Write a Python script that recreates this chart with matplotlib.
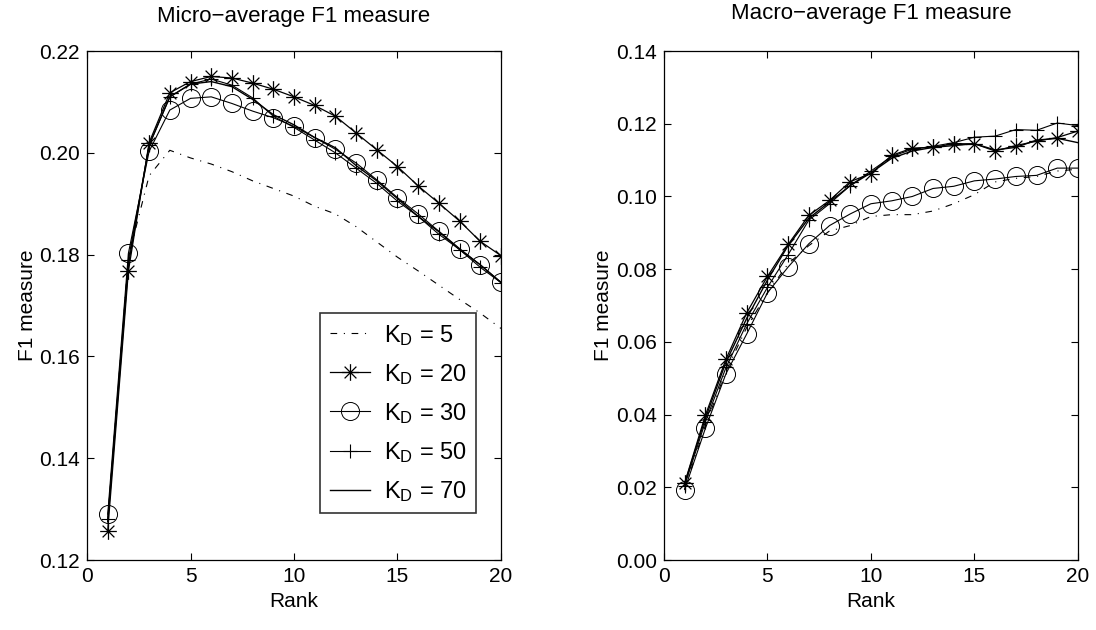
import numpy as np
import matplotlib
matplotlib.use('Agg')
import matplotlib.pyplot as plt
from matplotlib.path import Path

plt.rcParams['font.family'] = ['Liberation Sans', 'DejaVu Sans']
plt.rcParams['mathtext.fontset'] = 'custom'
plt.rcParams['mathtext.rm'] = 'Liberation Sans'
plt.rcParams['mathtext.it'] = 'Liberation Sans'

rank = np.arange(1, 21)

# Micro-average F1
micro_k5 = [0.1275, 0.1795, 0.1955, 0.2005, 0.1990, 0.1978, 0.1963, 0.1945, 0.1930, 0.1915,
            0.1895, 0.1880, 0.1855, 0.1825, 0.1795, 0.1768, 0.1740, 0.1712, 0.1685, 0.1655]
micro_k20 = [0.1258, 0.1768, 0.2020, 0.2118, 0.2140, 0.2150, 0.2147, 0.2137, 0.2125, 0.2110,
             0.2093, 0.2072, 0.2039, 0.2006, 0.1973, 0.1935, 0.1901, 0.1866, 0.1826, 0.1798]
micro_k30 = [0.1290, 0.1803, 0.2003, 0.2084, 0.2107, 0.2110, 0.2097, 0.2082, 0.2069, 0.2052,
             0.2030, 0.2007, 0.1980, 0.1947, 0.1912, 0.1880, 0.1846, 0.1812, 0.1780, 0.1746]
micro_k50 = [0.1280, 0.1790, 0.2015, 0.2110, 0.2135, 0.2145, 0.2133, 0.2108, 0.2072, 0.2050,
             0.2025, 0.2000, 0.1970, 0.1940, 0.1905, 0.1875, 0.1840, 0.1810, 0.1775, 0.1745]
micro_k70 = [0.1275, 0.1780, 0.2015, 0.2110, 0.2135, 0.2140, 0.2130, 0.2105, 0.2075, 0.2055,
             0.2030, 0.2010, 0.1975, 0.1945, 0.1910, 0.1875, 0.1845, 0.1810, 0.1780, 0.1745]

# Macro-average F1
macro_k5 = [0.0195, 0.0370, 0.0520, 0.0640, 0.0735, 0.0815, 0.0865, 0.0905, 0.0920, 0.0945,
            0.0950, 0.0950, 0.0960, 0.0980, 0.1005, 0.1040, 0.1050, 0.1055, 0.1070, 0.1075]
macro_k20 = [0.0212, 0.0398, 0.0553, 0.0680, 0.0780, 0.0868, 0.0948, 0.0989, 0.1041, 0.1063,
             0.1113, 0.1133, 0.1135, 0.1145, 0.1145, 0.1125, 0.1140, 0.1152, 0.1162, 0.1180]
macro_k30 = [0.0194, 0.0362, 0.0513, 0.0622, 0.0735, 0.0806, 0.0870, 0.0920, 0.0952, 0.0980,
             0.0988, 0.1000, 0.1022, 0.1028, 0.1043, 0.1048, 0.1055, 0.1058, 0.1078, 0.1078]
macro_k50 = [0.0205, 0.0380, 0.0530, 0.0650, 0.0750, 0.0840, 0.0935, 0.0980, 0.1030, 0.1070,
             0.1110, 0.1130, 0.1138, 0.1148, 0.1163, 0.1166, 0.1184, 0.1182, 0.1202, 0.1195]
macro_k70 = [0.0210, 0.0390, 0.0545, 0.0665, 0.0770, 0.0865, 0.0940, 0.0985, 0.1030, 0.1065,
             0.1105, 0.1125, 0.1135, 0.1140, 0.1145, 0.1128, 0.1135, 0.1155, 0.1160, 0.1148]

labels = [r'K$_\mathrm{D}$ = 5', r'K$_\mathrm{D}$ = 20', r'K$_\mathrm{D}$ = 30',
          r'K$_\mathrm{D}$ = 50', r'K$_\mathrm{D}$ = 70']

# matlab-like asterisk: + and x together
d = 0.7071
asterisk = Path([(-1, 0), (1, 0), (0, -1), (0, 1), (-d, -d), (d, d), (-d, d), (d, -d)],
                [Path.MOVETO, Path.LINETO] * 4)

styles = [
    dict(ls=(0, (6, 6, 1, 6)), lw=0.8, marker=None),
    dict(ls='-', lw=0.9, marker=asterisk, ms=12, mew=0.9),
    dict(ls='-', lw=0.8, marker='o', ms=13, mfc='none', mew=0.7),
    dict(ls='-', lw=0.8, marker='+', ms=10, mew=0.8),
    dict(ls='-', lw=1.0, marker=None),
]

fig = plt.figure(figsize=(10.96, 6.30), dpi=100)
ax1 = fig.add_axes([0.0794, 0.111, 0.3777, 0.808])
ax2 = fig.add_axes([0.6058, 0.111, 0.3777, 0.808])

micro = [micro_k5, micro_k20, micro_k30, micro_k50, micro_k70]
macro = [macro_k5, macro_k20, macro_k30, macro_k50, macro_k70]

for ys, st, lab in zip(micro, styles, labels):
    ax1.plot(rank, ys, color='black', label=lab, **st)
for ys, st in zip(macro, styles):
    ax2.plot(rank, ys, color='black', **st)

axes_info = [(ax1, 'Micro\u2212average F1 measure', np.arange(0.12, 0.2201, 0.02), 21),
             (ax2, 'Macro\u2212average F1 measure', np.arange(0.0, 0.1401, 0.02), 23)]
for ax, title, yt, tpad in axes_info:
    ax.set_xlim(0, 20)
    ax.set_ylim(yt[0], yt[-1])
    ax.set_xticks([0, 5, 10, 15, 20])
    ax.set_yticks(yt)
    ax.set_yticklabels(['%.2f' % v for v in yt])
    ax.tick_params(direction='in', top=True, right=True, labelsize=15, length=5,
                   width=0.8, pad=5)
    ax.set_title(title, fontsize=16, pad=tpad)
    ax.set_xlabel('Rank', fontsize=15, labelpad=4)
    ax.set_ylabel('F1 measure', fontsize=15, labelpad=2)
    for s in ax.spines.values():
        s.set_linewidth(0.9)

leg = ax1.legend(loc='lower right', bbox_to_anchor=(0.94, 0.092), fontsize=17,
                 frameon=True, fancybox=False, edgecolor='black', handlelength=1.7,
                 labelspacing=0.6, borderpad=0.4, handletextpad=0.6, borderaxespad=0)
leg.get_frame().set_linewidth(1.2)

fig.savefig('out.png', dpi=100)
